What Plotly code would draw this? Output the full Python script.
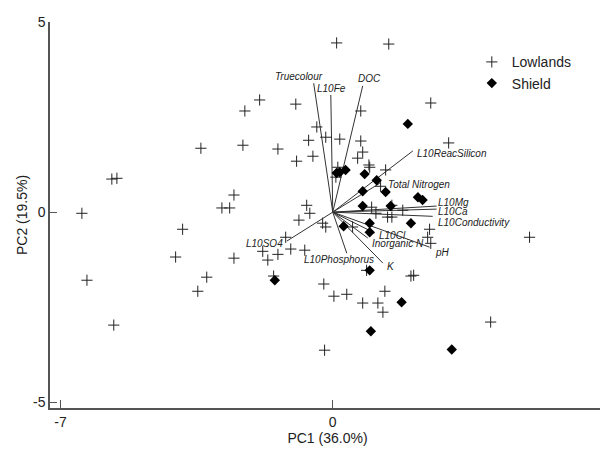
import plotly.graph_objects as go

# Site scores (PC1, PC2)
lowlands_pc1 = [0.10, 1.44, -1.88, -2.26, -0.95, 2.52, 0.72, -0.41, -0.62, -0.18,
                0.18, 0.72, -2.31, -1.41, -0.51, -0.93, 0.77, 0.64, 0.93, 0.95,
                1.36, 2.98, 0.13, -2.54, 0.08, 1.23, -2.85, -2.65, -0.67, -0.59,
                -0.87, -0.26, -0.18, -1.21, -1.08, -1.80, -1.41, -1.67, -0.72, -2.54,
                1.00, 1.52, 1.11, 1.41, 1.52, 1.80, 0.51, 2.49, 2.44, 2.52,
                2.01, 2.08, -0.23, 0.03, 0.36, 1.34, 0.77, 1.16, 1.29, -0.21,
                5.06, 4.06, -3.39, -5.68, -5.55, -6.45, -3.86, -4.04, -6.32, -3.24,
                -3.47, -5.63, -1.52, 0.87]
lowlands_pc2 = [4.45, 4.42, 2.95, 2.66, 2.84, 2.87, 2.66, 2.24, 1.89, 1.97,
                1.92, 1.87, 1.76, 1.66, 1.47, 1.34, 1.58, 1.42, 1.24, 1.18,
                1.11, 1.82, 1.18, 0.45, 0.92, 0.68, 0.11, 0.11, 0.18, -0.03,
                -0.21, -0.29, -0.39, -0.66, -0.97, -1.03, -1.11, -1.26, -1.00, -1.21,
                0.13, 0.18, -0.03, -0.13, -0.13, 0.05, -0.39, -0.45, -0.66, -0.82,
                -1.68, -1.66, -1.89, -2.21, -2.16, -2.08, -2.39, -2.39, -2.63, -3.63,
                -0.66, -2.89, 1.68, 0.87, 0.89, -0.03, -0.45, -1.18, -1.79, -1.71,
                -2.08, -2.97, -1.68, -1.53]

shield_pc1 = [1.93, 0.10, 0.18, 0.33, 0.82, 1.13, 0.77, 1.36, 2.19, 2.31,
              0.77, 1.49, 0.95, 0.28, 0.95, 2.01, 0.95, -1.49, 1.77, 0.98, 3.06]
shield_pc2 = [2.32, 1.03, 1.05, 1.11, 1.00, 0.84, 0.55, 0.53, 0.39, 0.32,
              0.16, 0.16, -0.29, -0.37, -0.53, -0.29, -1.53, -1.79, -2.37, -3.13, -3.61]

# Variable loadings (arrow tips)
loading_names = ["Truecolour", "L10Fe", "DOC", "L10ReacSilicon", "Total Nitrogen",
                 "L10Mg", "L10Ca", "L10Conductivity", "L10Cl", "Inorganic N",
                 "pH", "K", "L10Phosphorus", "L10SO4"]
loading_pc1 = [-0.49, -0.05, 0.77, 2.06, 1.21, 2.67, 2.67, 2.57, 1.08, 0.90,
               2.49, 1.29, 0.36, -1.18]
loading_pc2 = [3.39, 3.08, 3.32, 1.61, 0.76, 0.16, 0.08, -0.11, -0.55, -0.68,
               -0.92, -1.34, -1.08, -0.76]

x_ticks = [-7, 0, 7]
y_ticks = [-5, 0, 5]
x_title = "PC1 (36.0%)"
y_title = "PC2 (19.5%)"

# label placement styles: (xanchor, xshift, yshift)
label_style = {
    "Truecolour": ("center", -15, 7),
    "L10Fe": ("center", 1, 7),
    "DOC": ("center", 7, 7),
    "L10ReacSilicon": ("left", 2, -3),
    "Total Nitrogen": ("left", 6, -1),
    "L10Mg": ("left", -1, 4),
    "L10Ca": ("left", -1, -2),
    "L10Conductivity": ("left", 3, -6),
    "L10Cl": ("left", 2, -2),
    "Inorganic N": ("left", 2, -5),
    "pH": ("left", 3, -5),
    "K": ("left", 2, -3),
    "L10Phosphorus": ("center", -8, -6),
    "L10SO4": ("right", -2, -2),
}

FONT = "Arial, Liberation Sans, sans-serif"

fig = go.Figure()

lx, ly = [], []
for a, b in zip(loading_pc1, loading_pc2):
    lx += [0, a, None]
    ly += [0, b, None]
fig.add_trace(go.Scatter(x=lx, y=ly, mode="lines", line=dict(color="#333333", width=1),
                         showlegend=False, hoverinfo="skip"))

fig.add_trace(go.Scatter(x=lowlands_pc1, y=lowlands_pc2, mode="markers", name="Lowlands",
                         marker=dict(symbol="cross-thin-open", size=8,
                                     line=dict(color="#222222", width=1), color="#222222")))
fig.add_trace(go.Scatter(x=shield_pc1, y=shield_pc2, mode="markers", name="Shield",
                         marker=dict(symbol="diamond", size=8, color="#000000",
                                     line=dict(width=0))))

for name, a, b in zip(loading_names, loading_pc1, loading_pc2):
    xa, dx, dy = label_style[name]
    fig.add_annotation(x=a, y=b, text="<i>" + name + "</i>", showarrow=False,
                       xanchor=xa, yanchor="middle", xshift=dx, yshift=dy,
                       font=dict(family=FONT, size=10, color="#222222"))

fig.update_xaxes(range=[-7.27, 7.0], tickvals=x_ticks, ticktext=[str(v) for v in x_ticks],
                 showgrid=False, zeroline=False, showline=True, linecolor="#555555",
                 linewidth=1.5, ticks="inside", ticklen=8, tickcolor="#555555",
                 automargin=False,
                 tickfont=dict(family=FONT, size=14, color="#222222"),
                 title=dict(text=x_title, font=dict(family=FONT, size=14, color="#222222"),
                            standoff=2))
fig.update_yaxes(range=[-5.15, 5.0], tickvals=y_ticks, ticktext=[str(v) for v in y_ticks],
                 showgrid=False, zeroline=False, showline=True, linecolor="#555555",
                 linewidth=1.5, ticks="inside", ticklen=7, tickcolor="#555555",
                 automargin=False,
                 tickfont=dict(family=FONT, size=14, color="#222222"),
                 title=dict(text=y_title, font=dict(family=FONT, size=14, color="#222222"),
                            standoff=2))

# page body has an 8px default margin, so the figure is sized/offset to compensate
fig.update_layout(
    width=600, height=448,
    margin=dict(l=42, r=3, t=14, b=48, autoexpand=False),
    paper_bgcolor="white", plot_bgcolor="white",
    legend=dict(x=0.76, y=0.937, xanchor="left", yanchor="top",
                font=dict(family=FONT, size=14, color="#222222"),
                bgcolor="rgba(0,0,0,0)", itemwidth=30, tracegroupgap=0),
    showlegend=True,
)

fig.write_html("out.html")
